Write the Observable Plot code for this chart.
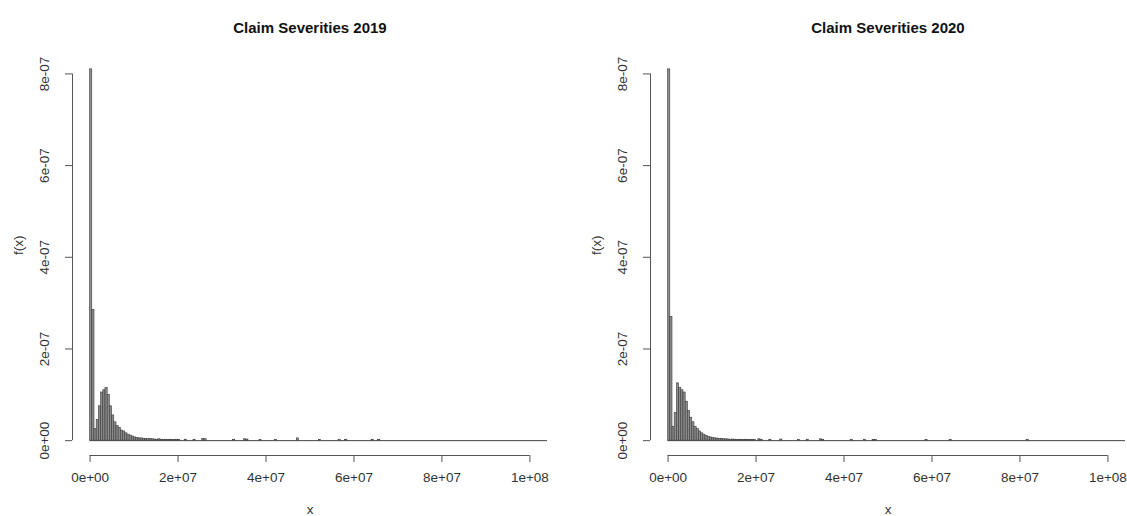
<!DOCTYPE html>
<html><head><meta charset="utf-8">
<script src="https://cdn.jsdelivr.net/npm/d3@7"></script>
<script src="https://cdn.jsdelivr.net/npm/@observablehq/plot@0.6"></script>
<style>
html,body{margin:0;padding:0;background:#fff;overflow:hidden;}
#wrap{position:relative;width:1127px;height:516px;overflow:hidden;background:#fff;}
.panel{position:absolute;top:0;width:578px;height:516px;}
.panel svg{max-width:none !important;}
</style></head><body><div id="wrap"></div>
<script>
// ---- data ----
const binWidth = 5e5;
const titles = ["Claim Severities 2019", "Claim Severities 2020"];
// densities (x 1e-7) of consecutive bins starting at 0
const dens2019 = [8.1, 2.85, 0.25, 0.45, 0.75, 1.05, 1.1, 1.15, 1.0, 0.75,
  0.55, 0.4, 0.32, 0.28, 0.22, 0.2, 0.16, 0.13, 0.11, 0.09,
  0.07, 0.06, 0.05, 0.05, 0.04, 0.04, 0.03, 0.035, 0.03, 0.025,
  0.02, 0.03, 0.02, 0.015, 0.02, 0.015, 0.02, 0.015, 0.01, 0.02];
// sparse tail bins: start (millions) and density (x 1e-7)
const tailStart2019 = [20.0, 21.5, 23.5, 25.5, 26.0, 32.5, 35.0, 35.5, 38.5, 42.0, 47.0, 52.0, 56.5, 58.0, 64.0, 65.5];
const tailDens2019  = [0.015, 0.02, 0.02, 0.04, 0.03, 0.02, 0.03, 0.025, 0.01, 0.01, 0.05, 0.015, 0.01, 0.015, 0.02, 0.015];

const dens2020 = [8.1, 2.7, 0.3, 0.6, 1.25, 1.15, 1.1, 1.05, 0.85, 0.65,
  0.5, 0.4, 0.3, 0.25, 0.2, 0.16, 0.13, 0.1, 0.08, 0.07,
  0.06, 0.05, 0.045, 0.04, 0.035, 0.03, 0.03, 0.025, 0.02, 0.025,
  0.02, 0.015, 0.02, 0.015, 0.01, 0.02, 0.015, 0.01, 0.015, 0.01];
const tailStart2020 = [20.5, 21.0, 23.0, 25.5, 29.5, 31.5, 34.5, 35.0, 41.5, 44.5, 46.5, 47.0, 58.5, 64.0, 81.5];
const tailDens2020  = [0.03, 0.02, 0.02, 0.025, 0.015, 0.02, 0.03, 0.02, 0.015, 0.02, 0.02, 0.015, 0.015, 0.015, 0.015];

const xTicks = [0, 2e7, 4e7, 6e7, 8e7, 1e8];
const xTickLabels = ["0e+00", "2e+07", "4e+07", "6e+07", "8e+07", "1e+08"];
const yTicks = [0, 2e-7, 4e-7, 6e-7, 8e-7];
const yTickLabels = ["0e+00", "2e-07", "4e-07", "6e-07", "8e-07"];
const xLabel = "x";
const yLabel = "f(x)";

// ---- build ----
function bins(dens, tStart, tDens) {
  const rows = dens.map((d, i) => ({x1: i * binWidth, x2: (i + 1) * binWidth, y: d * 1e-7}));
  tStart.forEach((s, i) => rows.push({x1: s * 1e6, x2: s * 1e6 + binWidth, y: tDens[i] * 1e-7}));
  return rows;
}

const xDomain = [-4e6, 1.04e8];
const yDomain = [-3.24e-8, 8.424e-7];

function panel(title, rows) {
  return Plot.plot({
    width: 578, height: 516,
    marginLeft: 72, marginRight: 31, marginTop: 54, marginBottom: 61,
    x: {domain: xDomain},
    y: {domain: yDomain},
    style: {fontFamily: "'Liberation Sans', Arial, sans-serif", fontSize: "13.5px", color: "#333", background: "white", overflow: "visible", maxWidth: "none"},
    marks: [
      Plot.rectY(rows, {x1: "x1", x2: "x2", y1: 0, y2: "y", fill: "#8c8c8c", stroke: "#3a3a3a", strokeWidth: 0.6}),
      Plot.ruleY([0], {x1: 0, x2: xDomain[1], stroke: "#444"}),
      Plot.axisX({ticks: xTicks, tickSize: 7, tickPadding: 10, tickFormat: d => xTickLabels[xTicks.indexOf(d)], label: null, stroke: "#555"}),
      Plot.ruleY([yDomain[0]], {x1: xTicks[0], x2: xTicks[xTicks.length - 1], stroke: "#555"}),
      Plot.axisY({ticks: yTicks, tickSize: 7, tickFormat: () => "", label: null, stroke: "#555"}),
      Plot.ruleX([xDomain[0]], {y1: yTicks[0], y2: yTicks[yTicks.length - 1], stroke: "#555"}),
      Plot.text(yTicks, {y: d => d, frameAnchor: "left", dx: -28, rotate: -90, textAnchor: "middle", lineAnchor: "middle", text: d => yTickLabels[yTicks.indexOf(d)], fill: "#333"}),
      Plot.text([yLabel], {frameAnchor: "left", dx: -54, rotate: -90, fill: "#333"}),
      Plot.text([xLabel], {frameAnchor: "bottom", dy: 58, fill: "#333"}),
      Plot.text([title], {frameAnchor: "top", dy: -32, fontWeight: "bold", fontSize: 15, fill: "#111"})
    ]
  });
}

const wrap = document.getElementById("wrap");
const p1 = panel(titles[0], bins(dens2019, tailStart2019, tailDens2019));
const p2 = panel(titles[1], bins(dens2020, tailStart2020, tailDens2020));
const d1 = document.createElement("div"); d1.className = "panel"; d1.style.left = "0px"; d1.appendChild(p1);
const d2 = document.createElement("div"); d2.className = "panel"; d2.style.left = "578px"; d2.appendChild(p2);
wrap.appendChild(d1); wrap.appendChild(d2);
</script></body></html>
